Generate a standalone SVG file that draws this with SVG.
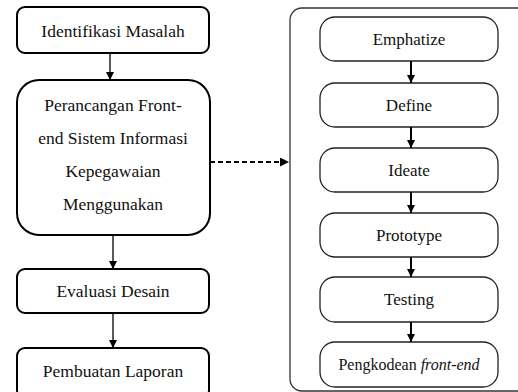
<svg xmlns="http://www.w3.org/2000/svg" width="518" height="392" viewBox="0 0 518 392">
<style>
.lb{fill:#fff;stroke:#000;stroke-width:2}
.rb{fill:#fff;stroke:#222;stroke-width:1.3}
.t{font-family:'Liberation Serif','Times New Roman',serif;fill:#111;text-anchor:middle}
.tl{font-size:17.5px}
.tr{font-size:17px}
.c1{stroke:#000;stroke-width:1.3;fill:none}
.c2{stroke:#000;stroke-width:2;fill:none}
</style>
<defs>
<marker id="ah" viewBox="0 0 10 10" refX="10" refY="5" markerWidth="8" markerHeight="8" markerUnits="userSpaceOnUse" orient="auto"><path d="M0,0L10,5L0,10z" fill="#000"/></marker>
<marker id="ah2" viewBox="0 0 10 10" refX="10" refY="5" markerWidth="9" markerHeight="9" markerUnits="userSpaceOnUse" orient="auto"><path d="M0,0L10,5L0,10z" fill="#000"/></marker>
</defs>
<g id="outer"><rect x="290" y="8" width="240" height="383" rx="12" fill="none" stroke="#333" stroke-width="1.3"/></g>
<g id="n1"><rect class="lb" x="17" y="7" width="192" height="46" rx="8"/><text class="t tl" x="113" y="37">Identifikasi Masalah</text></g>
<g id="n2"><rect class="lb" x="17" y="80" width="193" height="155" rx="22"/>
<text class="t tl" x="113" y="111">Perancangan Front-</text>
<text class="t tl" x="113" y="144">end Sistem Informasi</text>
<text class="t tl" x="113" y="177">Kepegawaian</text>
<text class="t tl" x="113" y="210">Menggunakan</text></g>
<g id="n3"><rect class="lb" x="17" y="269" width="192" height="44" rx="8"/><text class="t tl" x="113" y="297">Evaluasi Desain</text></g>
<g id="n4"><rect class="lb" x="17" y="348" width="192" height="50" rx="8"/><text class="t tl" x="113" y="377">Pembuatan Laporan</text></g>
<g id="r1"><rect class="rb" x="320" y="17" width="178" height="44" rx="15"/><text class="t tr" x="409" y="45">Emphatize</text></g>
<g id="r2"><rect class="rb" x="320" y="83" width="178" height="44" rx="15"/><text class="t tr" x="409" y="111">Define</text></g>
<g id="r3"><rect class="rb" x="320" y="148" width="178" height="44" rx="15"/><text class="t tr" x="409" y="176">Ideate</text></g>
<g id="r4"><rect class="rb" x="320" y="213" width="178" height="44" rx="15"/><text class="t tr" x="409" y="241">Prototype</text></g>
<g id="r5"><rect class="rb" x="320" y="277" width="178" height="45" rx="15"/><text class="t tr" x="409" y="305">Testing</text></g>
<g id="r6"><rect class="rb" x="320" y="342" width="178" height="45" rx="15"/><text class="t" x="409" y="370" style="font-size:16px">Pengkodean <tspan font-style="italic">front-end</tspan></text></g>
<g id="connectors">
<line class="c1" x1="110" y1="53" x2="110" y2="80" marker-end="url(#ah)"/>
<line class="c1" x1="113" y1="235" x2="113" y2="269" marker-end="url(#ah)"/>
<line class="c1" x1="113" y1="313" x2="113" y2="348" marker-end="url(#ah)"/>
<line class="c2" x1="210" y1="162" x2="289" y2="162" stroke-dasharray="5,3" marker-end="url(#ah2)"/>
<line class="c2" x1="411" y1="61" x2="411" y2="83" marker-end="url(#ah)"/>
<line class="c2" x1="411" y1="127" x2="411" y2="148" marker-end="url(#ah)"/>
<line class="c2" x1="411" y1="192" x2="411" y2="213" marker-end="url(#ah)"/>
<line class="c2" x1="411" y1="257" x2="411" y2="277" marker-end="url(#ah)"/>
<line class="c2" x1="411" y1="322" x2="411" y2="342" marker-end="url(#ah)"/>
</g>
</svg>
